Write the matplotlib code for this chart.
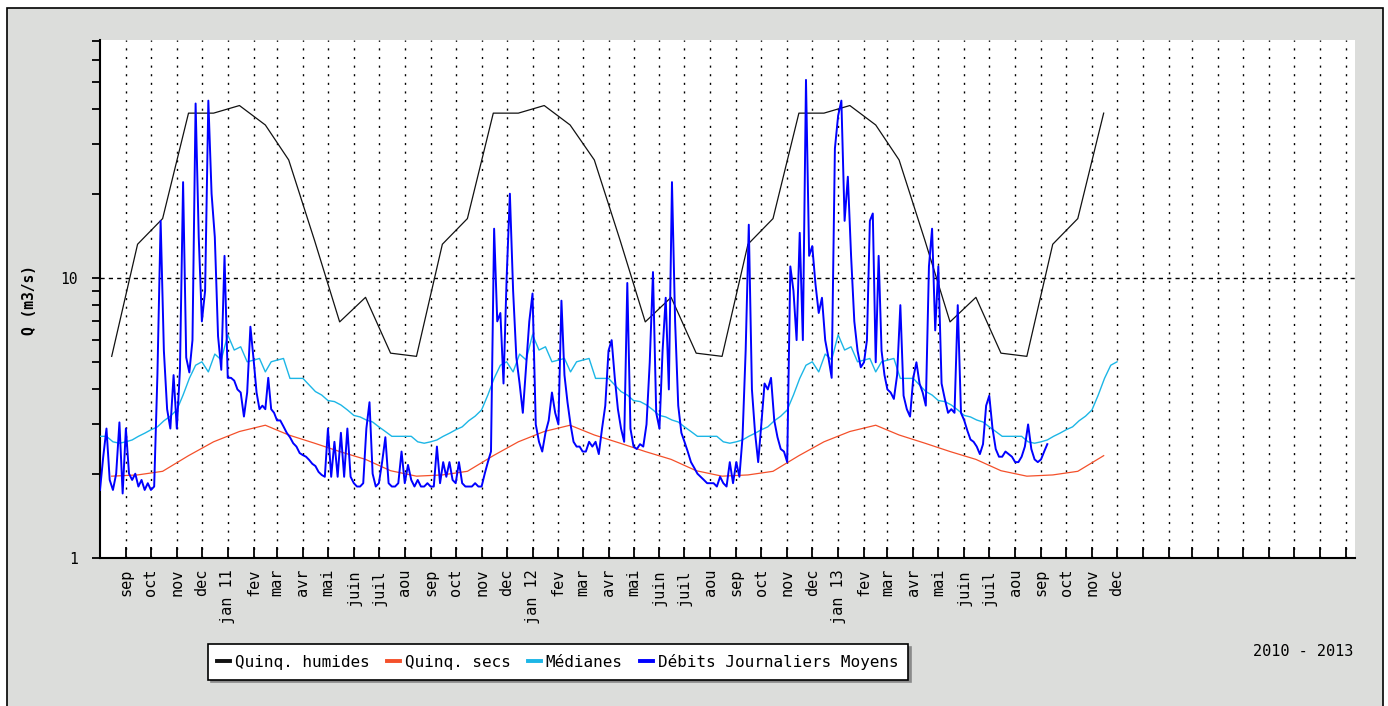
import numpy as np
import matplotlib
matplotlib.use("Agg")
import matplotlib.pyplot as plt
from matplotlib.lines import Line2D
from matplotlib.patches import Rectangle
from matplotlib.ticker import FixedLocator, LogLocator, NullFormatter, FuncFormatter

plt.rcParams['lines.scale_dashes'] = False
MONO = 'DejaVu Sans Mono'

# ---------------- data ----------------
month_names = ['jan', 'fev', 'mar', 'avr', 'mai', 'juin', 'juil', 'aou', 'sep', 'oct', 'nov', 'dec']

# monthly values (jan..dec), plotted on the 15th of each month
quinq_humides = [41.3, 35.2, 26.4, 13.6, 6.97, 8.53, 5.39, 5.25, 13.2, 16.3, 38.8, 38.8]
quinq_secs = [2.83, 2.98, 2.75, 2.57, 2.40, 2.25, 2.05, 1.96, 1.98, 2.04, 2.32, 2.60]

# daily medians, 4 readings per month (jan..dec)
medianes = [
    [6.27, 5.53, 5.68, 5.02],
    [5.09, 5.16, 4.62, 5.02],
    [5.09, 5.16, 4.38, 4.38],
    [4.38, 4.15, 3.93, 3.82],
    [3.65, 3.62, 3.52, 3.38],
    [3.23, 3.19, 3.11, 3.06],
    [2.94, 2.83, 2.72, 2.72],
    [2.72, 2.72, 2.60, 2.57],
    [2.60, 2.64, 2.72, 2.79],
    [2.87, 2.94, 3.09, 3.21],
    [3.38, 3.82, 4.38, 4.88],
    [5.02, 4.62, 5.35, 5.10],
]

# daily mean flows, 8 readings per month
debits_2010 = [  # aug..dec 2010
    1.75, 2.3, 2.9, 1.9, 1.75, 2.0, 3.05, 1.7,
    2.9, 2.0, 1.9, 2.0, 1.8, 1.9, 1.75, 1.85,
    1.75, 1.8, 4.5, 16, 5.5, 3.4, 2.9, 4.5,
    2.9, 4.7, 22, 5.2, 4.6, 6.0, 42, 14,
    7.0, 9.0, 43, 20, 14, 6.2, 4.7, 12,
]
debits_2011 = [
    4.4, 4.4, 4.3, 4.0, 3.9, 3.2, 3.9, 6.7,
    5.1, 3.9, 3.4, 3.5, 3.4, 4.4, 3.4, 3.3,
    3.1, 3.1, 2.95, 2.8, 2.7, 2.57, 2.5, 2.37,
    2.33, 2.3, 2.24, 2.17, 2.13, 2.03, 1.98, 1.95,
    2.9, 1.95, 2.6, 1.95, 2.8, 1.95, 2.9, 1.95,
    1.85, 1.8, 1.8, 1.85, 2.9, 3.6, 2.0, 1.8,
    1.85, 2.2, 2.7, 1.85, 1.8, 1.8, 1.85, 2.4,
    1.85, 2.15, 1.9, 1.8, 1.9, 1.8, 1.8, 1.85,
    1.8, 1.8, 2.5, 1.85, 2.2, 1.95, 2.2, 1.9,
    1.85, 2.2, 1.85, 1.8, 1.8, 1.8, 1.85, 1.8,
    1.8, 2.0, 2.2, 2.4, 15, 7.0, 7.5, 4.2,
    10, 20, 9, 5.2, 4.2, 3.3, 4.8, 7.0,
]
debits_2012 = [
    8.8, 3.0, 2.6, 2.4, 2.8, 3.1, 3.9, 3.3,
    3.0, 8.3, 4.5, 3.6, 3.0, 2.6, 2.5, 2.5,
    2.4, 2.4, 2.6, 2.5, 2.6, 2.35, 2.9, 3.5,
    5.5, 6.0, 4.4, 3.4, 2.9, 2.6, 9.6, 2.9,
    2.5, 2.45, 2.55, 2.5, 3.0, 5.0, 10.5, 3.3,
    2.9, 5.5, 8.5, 4.0, 22, 7.0, 3.5, 2.8,
    2.6, 2.4, 2.2, 2.1, 2.0, 1.95, 1.9, 1.85,
    1.85, 1.85, 1.8, 1.95, 1.85, 1.8, 2.2, 1.85,
    2.2, 1.95, 2.7, 5.5, 15.5, 4.0, 2.8, 2.2,
    3.0, 4.2, 4.0, 4.4, 3.1, 2.7, 2.45, 2.4,
    2.2, 11, 9, 6.0, 14.5, 6.0, 51, 12,
    13, 9.5, 7.5, 8.5, 6.0, 5.2, 4.4, 29,
]
debits_2013 = [  # jan..early sep 2013
    38, 43, 16, 23, 12, 7.0, 5.5, 4.8,
    5.0, 6.0, 16, 17, 5.0, 12, 5.5, 4.5,
    4.0, 3.9, 3.7, 4.5, 8.0, 3.8, 3.4, 3.2,
    4.4, 5.0, 4.2, 3.9, 3.5, 11, 15, 6.5,
    11, 4.2, 3.7, 3.3, 3.4, 3.3, 8.0, 3.3,
    3.1, 2.85, 2.65, 2.6, 2.5, 2.35, 2.55, 3.5,
    3.8, 2.9, 2.45, 2.3, 2.3, 2.4, 2.35, 2.3,
    2.2, 2.2, 2.3, 2.5, 3.0, 2.45, 2.25, 2.2,
    2.25, 2.4, 2.55,
]

period_text = '2010 - 2013'
legend_labels = ['Quinq. humides', 'Quinq. secs', 'Médianes', 'Débits Journaliers Moyens']
colors = ['#111111', '#f4502a', '#1cb6e6', '#0000ff']


# ---------------- helpers ----------------
def month_start(y, m):
    return np.datetime64(f'{y:04d}-{m:02d}-01')


def next_month(y, m):
    return (y + 1, 1) if m == 12 else (y, m + 1)


def sampled(y, m, values, per_month):
    dates, vals = [], []
    for k in range(0, len(values), per_month):
        chunk = values[k:k + per_month]
        s = month_start(y, m)
        ny, nm = next_month(y, m)
        ml = int((month_start(ny, nm) - s).astype(int))
        for i, v in enumerate(chunk):
            dates.append(s.astype('datetime64[h]') + np.timedelta64(int(round(i * ml * 24 / per_month)), 'h'))
            vals.append(v)
        y, m = ny, nm
    return dates, vals


def monthly_series(y0, m0, y1, m1, clim):
    dates, vals = [], []
    y, m = y0, m0
    while (y, m) <= (y1, m1):
        dates.append(np.datetime64(f'{y:04d}-{m:02d}-15').astype('datetime64[h]'))
        vals.append(clim[m - 1])
        y, m = next_month(y, m)
    return np.array(dates), np.array(vals)


# blue daily series
bd, bv = [], []
for (yy, mm, arr) in [(2010, 8, debits_2010), (2011, 1, debits_2011), (2012, 1, debits_2012), (2013, 1, debits_2013)]:
    d, v = sampled(yy, mm, arr, 8)
    bd += d
    bv += v
bd = np.array(bd)
bv = np.array(bv)

# medians series (same climatology each year)
md, mv = [], []
y, m = 2010, 8
while (y, m) <= (2013, 11):
    d, v = sampled(y, m, medianes[m - 1], 4)
    md += d
    mv += v
    y, m = next_month(y, m)
md.append(np.datetime64('2013-12-01').astype('datetime64[h]'))
mv.append(medianes[11][0])
md = np.array(md)
mv = np.array(mv)

hd, hv = monthly_series(2010, 8, 2013, 11, quinq_humides)
sd, sv = monthly_series(2010, 8, 2013, 11, quinq_secs)

# ---------------- figure ----------------
W, H = 1388, 706
fig = plt.figure(figsize=(W / 100, H / 100), dpi=100, facecolor='white')
fig.patches.append(Rectangle((7 / W, -0.02), (1383 - 7) / W, (706 - 8) / H + 0.02,
                             transform=fig.transFigure, facecolor='#dcdddb',
                             edgecolor='black', lw=1.2, zorder=-10))

ax = fig.add_axes([100 / W, (H - 558) / H, (1355 - 100) / W, (558 - 40) / H])
ax.set_facecolor('white')

ax.plot(hd, hv, color=colors[0], lw=0.9, zorder=3)
ax.plot(sd, sv, color=colors[1], lw=0.9, zorder=3)
ax.plot(md, mv, color=colors[2], lw=1.0, zorder=3)
ax.plot(bd, bv, color=colors[3], lw=1.4, zorder=4)

ax.set_yscale('log')
ax.set_ylim(1, 70.8)
ax.set_xlim(np.datetime64('2010-08-01'), np.datetime64('2014-09-12'))

# x ticks: every month
ticks, labels = [], []
y, m = 2010, 9
while (y, m) <= (2014, 9):
    ticks.append(month_start(y, m))
    if (y, m) <= (2013, 12):
        labels.append(f'jan {y % 100:02d}' if m == 1 else month_names[m - 1])
    else:
        labels.append('')
    y, m = next_month(y, m)
ax.set_xticks(ticks)
ax.set_xticklabels(labels, rotation=90, fontsize=11, family=MONO)
ax.tick_params(axis='x', direction='in', length=8, width=1.3, pad=8)

ax.yaxis.set_major_locator(FixedLocator([1, 10]))
ax.yaxis.set_major_formatter(FuncFormatter(lambda v, p: f'{v:g}'))
ax.yaxis.set_minor_locator(LogLocator(base=10, subs=np.arange(2, 10)))
ax.yaxis.set_minor_formatter(NullFormatter())
ax.tick_params(axis='y', which='both', direction='out', length=6, width=1.3, pad=10)
for t in ax.get_yticklabels():
    t.set_family(MONO)
    t.set_fontsize(10.5)

ax.grid(axis='x', which='major', color='black', linestyle=(0, (1.5, 4.7)), lw=1.0)
ax.grid(axis='y', which='major', color='black', linestyle=(0, (3, 3)), lw=1.0)
ax.set_axisbelow(True)

for s in ['top', 'right']:
    ax.spines[s].set_visible(False)
for s in ['left', 'bottom']:
    ax.spines[s].set_linewidth(1.5)

fig.text(30 / W, 1 - 300 / H, 'Q (m3/s)', rotation=90, ha='center', va='center',
         family=MONO, fontsize=10.5, fontweight='bold')
fig.text(1353 / W, 1 - 652 / H, period_text, ha='right', va='center', family=MONO, fontsize=11)

handles = [Line2D([], [], color=c, lw=2.8) for c in colors]
leg = fig.legend(handles, legend_labels, loc='center', bbox_to_anchor=(558 / W, 1 - 662 / H),
                 ncol=4, frameon=True, fancybox=False, shadow={'color': '#8a8a8a', 'alpha': 1},
                 prop={'family': MONO, 'size': 11.5}, handlelength=0.8, handletextpad=0.3,
                 columnspacing=1.1, borderpad=0.6, edgecolor='black', facecolor='white',
                 framealpha=1)
leg.get_frame().set_linewidth(1.2)

fig.savefig('out.png', dpi=100, facecolor=fig.get_facecolor())
